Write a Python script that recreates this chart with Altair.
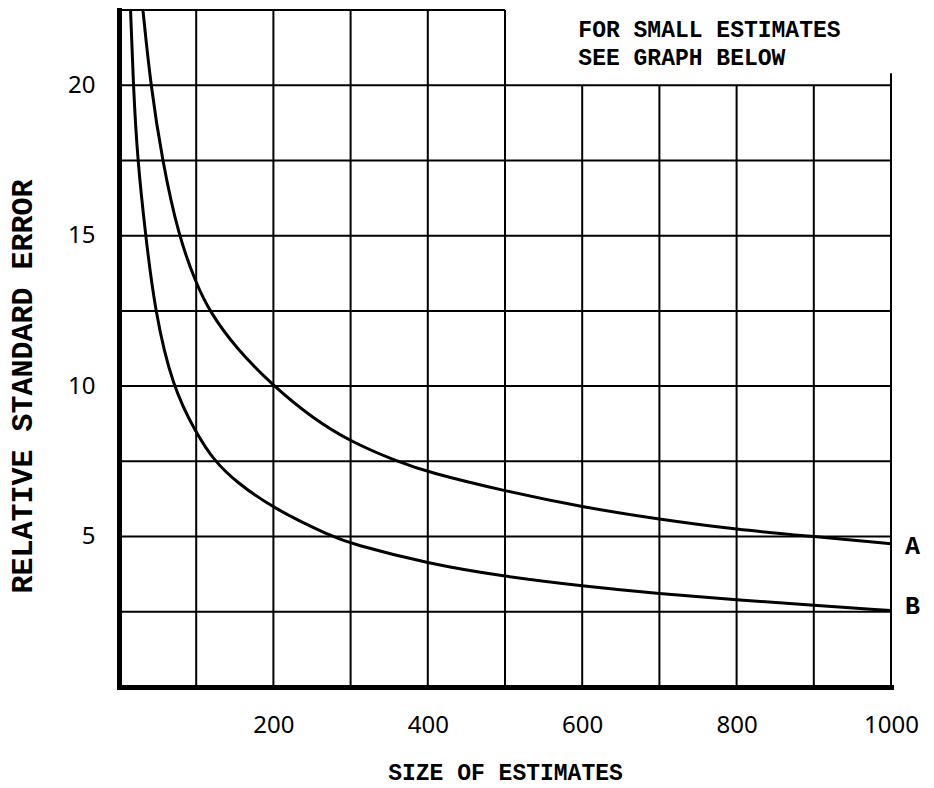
import altair as alt
import pandas as pd

# Curve A and curve B (size of estimate, relative standard error)
a_x = [31, 41, 56, 77, 100, 117, 150, 200, 250, 300, 360, 400, 500, 600, 700, 800, 900, 1000]
a_y = [22.5, 20, 17.5, 15, 13.4, 12.5, 11.3, 10.0, 8.95, 8.15, 7.5, 7.14, 6.51, 5.98, 5.57, 5.23, 5.0, 4.76]
b_x = [15, 18.5, 24, 34.5, 46.5, 69, 100, 124, 150, 200, 276, 300, 400, 500, 600, 700, 800, 900, 1000]
b_y = [22.5, 20, 17.5, 15, 12.5, 10, 8.43, 7.5, 6.85, 5.93, 5.0, 4.77, 4.10, 3.67, 3.36, 3.10, 2.90, 2.71, 2.54]

x_ticks = [200, 400, 600, 800, 1000]
y_ticks = [5, 10, 15, 20]
x_grid = [100, 200, 300, 400, 500, 600, 700, 800, 900, 1000]
x_grid_top = [22.5, 22.5, 22.5, 22.5, 22.5, 20, 20, 20, 20, 20.4]
y_grid = [2.5, 5, 7.5, 10, 12.5, 15, 17.5, 20, 22.5]
y_grid_right = [1000, 1000, 1000, 1000, 1000, 1000, 1000, 1000, 500]

curve_names = ["A", "B"]
curve_label_y = [4.7, 2.7]
note_lines = ["FOR SMALL ESTIMATES", "SEE GRAPH BELOW"]
note_y = [21.82, 20.92]
note_x = [595, 595]

curves = pd.DataFrame(
    {"x": a_x + b_x, "y": a_y + b_y, "curve": ["A"] * len(a_x) + ["B"] * len(b_x)}
)
vgrid = pd.DataFrame({"x": x_grid, "y": [0] * len(x_grid), "y2": x_grid_top})
hgrid = pd.DataFrame({"x": [0] * len(y_grid), "x2": y_grid_right, "y": y_grid})
clabels = pd.DataFrame({"x": [1000, 1000], "y": curve_label_y, "t": curve_names})
notes = pd.DataFrame({"x": note_x, "y": note_y, "t": note_lines})

xs = alt.Scale(domain=[0, 1000], nice=False, zero=False)
ys = alt.Scale(domain=[0, 22.5], nice=False, zero=False)

x_axis = alt.Axis(
    values=x_ticks, format="d", grid=False, ticks=False, labelFlush=False,
    domainWidth=5, domainColor="black", domainCap="square",
    labelFont="Noto Sans", labelFontSize=24, labelColor="black", labelPadding=26,
    titleFont="Liberation Mono", titleFontSize=23, titleFontWeight="bold",
    titleColor="black", titlePadding=24,
)
y_axis = alt.Axis(
    values=y_ticks, grid=False, ticks=False,
    domainWidth=5, domainColor="black", domainCap="square",
    labelFont="Noto Sans", labelFontSize=24, labelColor="black", labelPadding=24,
    titleFont="Liberation Mono", titleFontSize=30, titleFontWeight="bold",
    titleColor="black", titleX=-97, titleY=376, titleAngle=270,
    titleAlign="center", titleBaseline="middle",
)

X = alt.X("x:Q", scale=xs, axis=x_axis, title="SIZE OF ESTIMATES")
Y = alt.Y("y:Q", scale=ys, axis=y_axis, title="RELATIVE STANDARD ERROR")

vg = alt.Chart(vgrid).mark_rule(color="black", strokeWidth=2).encode(x=X, y=Y, y2="y2:Q")
hg = alt.Chart(hgrid).mark_rule(color="black", strokeWidth=2).encode(x=X, x2="x2:Q", y=Y)
lines = alt.Chart(curves).mark_line(
    color="black", strokeWidth=3, interpolate="basis", clip=True
).encode(x=X, y=Y, detail="curve:N")
cl = alt.Chart(clabels).mark_text(
    align="left", baseline="middle", dx=14, font="Liberation Mono",
    fontSize=25, fontWeight="bold", color="black"
).encode(x=X, y=Y, text="t:N")
nt = alt.Chart(notes).mark_text(
    align="left", baseline="middle", font="Liberation Mono",
    fontSize=23, fontWeight="bold", color="black"
).encode(x=X, y=Y, text="t:N")

chart = (
    alt.layer(vg, hg, lines, cl, nt)
    .properties(
        width=772, height=677,
        autosize=alt.AutoSizeParams(type="none"),
        padding={"left": 111, "top": 2, "right": 30, "bottom": 98},
        background="white",
    )
    .configure_view(stroke=None)
)

chart.save("out.html", embed_options={"renderer": "svg", "actions": False})
